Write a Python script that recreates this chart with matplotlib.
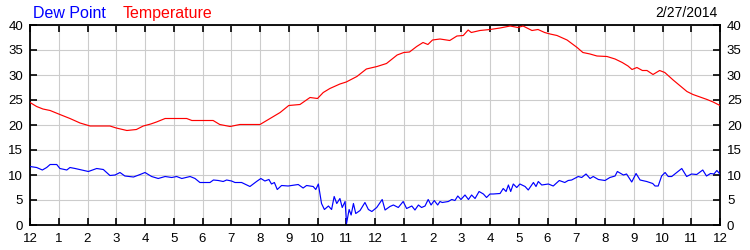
import matplotlib
matplotlib.use("Agg")
import matplotlib.pyplot as plt

plt.rcParams['font.family'] = ['Liberation Sans', 'DejaVu Sans']

# Temperature (hours since midnight, value)
temp_h = [0.0, 0.23, 0.45, 0.7, 1.04, 1.39, 1.74, 2.09, 2.4, 2.78, 3.0, 3.37, 3.7, 3.94,
          4.2, 4.4, 4.7, 5.1, 5.45, 5.63, 6.0, 6.37, 6.6, 6.96, 7.3, 7.65, 8.0, 8.35, 8.7,
          9.0, 9.39, 9.74, 10.0, 10.2, 10.43, 10.78, 11.0, 11.37, 11.7, 12.07, 12.4, 12.77,
          13.0, 13.2, 13.45, 13.67, 13.84, 14.0, 14.26, 14.6, 14.85, 15.07, 15.24, 15.35,
          15.65, 16.0, 16.35, 16.7, 16.97, 17.15, 17.46, 17.67, 17.9, 18.09, 18.33, 18.68,
          19.03, 19.23, 19.48, 19.72, 20.07, 20.35, 20.6, 20.8, 20.94, 21.11, 21.3, 21.46,
          21.67, 21.9, 22.08, 22.37, 22.85, 23.06, 23.55, 23.76, 24.0]
temp_v = [24.5, 23.7, 23.2, 22.9, 22.1, 21.3, 20.4, 19.8, 19.8, 19.8, 19.4, 18.9, 19.1, 19.8,
          20.2, 20.6, 21.3, 21.3, 21.3, 20.9, 20.9, 20.9, 20.1, 19.7, 20.1, 20.1, 20.1, 21.3, 22.5,
          23.9, 24.1, 25.5, 25.3, 26.5, 27.3, 28.2, 28.6, 29.7, 31.2, 31.7, 32.3, 34.0,
          34.5, 34.6, 35.7, 36.5, 36.1, 37.0, 37.2, 36.9, 37.8, 37.9, 39.0, 38.5,
          38.9, 39.1, 39.4, 39.8, 39.5, 39.8, 38.9, 39.1, 38.5, 38.2, 37.9, 37.0,
          35.5, 34.5, 34.2, 33.8, 33.7, 33.2, 32.5, 31.8, 31.1, 31.5, 30.9, 30.9,
          30.1, 30.9, 30.5, 29.0, 26.7, 26.1, 25.1, 24.6, 23.9]

# Dew point (hours since midnight, value)
dew_h = [0.0, 0.23, 0.43, 0.58, 0.7, 0.93, 1.04, 1.28, 1.39, 1.57, 1.8, 2.03, 2.32, 2.55,
         2.78, 2.96, 3.13, 3.3, 3.6, 3.83, 4.0, 4.23, 4.46, 4.7, 4.93, 5.1, 5.28, 5.57, 5.74,
         5.91, 6.26, 6.38, 6.55, 6.72, 6.84, 7.01, 7.13, 7.36, 7.65, 7.88, 8.03, 8.17, 8.31,
         8.4, 8.5, 8.6, 8.75, 8.98, 9.33, 9.5, 9.62, 9.85, 9.94, 10.03, 10.14, 10.24, 10.38,
         10.49, 10.58, 10.67, 10.78, 10.86, 10.96, 11.01, 11.1, 11.17, 11.25, 11.33, 11.48,
         11.65, 11.77, 11.89, 12.06, 12.25, 12.35, 12.52, 12.64, 12.81, 12.98, 13.1, 13.28,
         13.39, 13.51, 13.62, 13.74, 13.85, 13.95, 14.06, 14.18, 14.26, 14.34, 14.55, 14.67,
         14.78, 14.88, 14.99, 15.13, 15.25, 15.36, 15.48, 15.62, 15.77, 15.88, 16.0, 16.11,
         16.35, 16.46, 16.56, 16.64, 16.72, 16.81, 16.93, 17.04, 17.22, 17.33, 17.51, 17.6,
         17.68, 17.8, 18.03, 18.2, 18.41, 18.6, 18.72, 18.84, 19.07, 19.19, 19.34, 19.48,
         19.59, 19.77, 20.0, 20.17, 20.35, 20.43, 20.64, 20.75, 20.93, 21.08, 21.22, 21.45,
         21.66, 21.74, 21.85, 21.97, 22.09, 22.2, 22.32, 22.43, 22.67, 22.84, 23.01, 23.19,
         23.4, 23.53, 23.67, 23.79, 23.89, 24.0]
dew_v = [11.7, 11.5, 11.0, 11.5, 12.1, 12.1, 11.3, 11.0, 11.5, 11.3, 11.0, 10.7, 11.3, 11.1,
         9.9, 10.0, 10.5, 9.8, 9.6, 10.1, 10.5, 9.7, 9.3, 9.7, 9.5, 9.7, 9.3, 9.7, 9.3,
         8.5, 8.5, 9.0, 8.9, 8.7, 9.0, 8.8, 8.5, 8.5, 7.7, 8.7, 9.3, 8.8, 9.1,
         8.2, 8.5, 7.1, 7.9, 7.8, 8.1, 7.4, 7.9, 7.7, 7.1, 8.2, 4.3, 3.1, 3.8,
         3.1, 5.7, 4.3, 5.3, 3.5, 4.7, 0.3, 3.1, 2.0, 4.3, 2.3, 2.9,
         4.5, 3.1, 2.7, 3.5, 5.1, 3.0, 3.7, 4.0, 3.5, 4.7, 3.3, 3.8,
         3.0, 4.0, 3.5, 3.8, 5.1, 4.0, 4.9, 4.0, 4.7, 4.5, 4.7, 5.1,
         4.9, 5.8, 5.1, 6.0, 5.1, 6.0, 5.3, 6.7, 6.2, 5.5, 6.2, 6.2,
         6.3, 7.3, 6.7, 8.0, 6.7, 8.2, 7.5, 8.2, 7.7, 7.0, 8.5, 7.7,
         8.7, 8.0, 8.2, 7.8, 8.9, 8.5, 8.9, 9.0, 9.7, 9.5, 10.2, 9.3,
         9.7, 9.1, 8.9, 9.5, 9.8, 10.7, 10.0, 10.2, 8.6, 10.3, 9.0, 8.7,
         8.3, 7.8, 7.8, 9.8, 10.5, 9.7, 9.7, 10.2, 11.3, 9.7, 10.2, 10.1,
         11.0, 9.8, 10.3, 10.2, 10.9, 10.2]

x_labels = ['12'] + [str(i) for i in range(1, 12)] + ['12'] + [str(i) for i in range(1, 12)] + ['12']
y_ticks = [0, 5, 10, 15, 20, 25, 30, 35, 40]

fig = plt.figure(figsize=(7.5, 2.5), dpi=100)
ax = fig.add_axes([30/750, 25/250, 690/750, 200/250])

ax.plot(temp_h, temp_v, color='#ff0000', lw=0.85, zorder=3)
ax.plot(dew_h, dew_v, color='#0000ff', lw=0.85, zorder=3)

ax.set_xlim(0, 24)
ax.set_ylim(0, 40)
ax.set_xticks(range(25))
ax.set_xticklabels(x_labels)
ax.set_yticks(y_ticks)
ax.grid(True, color='#cccccc', lw=0.8, zorder=0)
ax.set_axisbelow(True)
for s in ax.spines.values():
    s.set_linewidth(1.3)
    s.set_color('black')
ax.tick_params(axis='both', direction='in', length=5, width=1.2, labelsize=9.5,
               top=True, right=True, labelright=True, pad=5)
ax.tick_params(axis='x', pad=6)

fig.text(33/750, 1 - 18/250, 'Dew Point', color='#0000ff', fontsize=11.5, ha='left', va='baseline')
fig.text(123/750, 1 - 18/250, 'Temperature', color='#ff0000', fontsize=11.5, ha='left', va='baseline')
fig.text(718/750, 1 - 17/250, '2/27/2014', color='black', fontsize=10, ha='right', va='baseline')

fig.savefig('out.png', dpi=100)
